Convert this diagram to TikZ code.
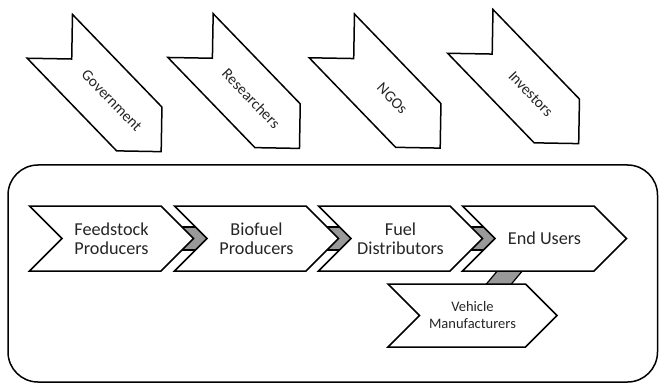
\documentclass[tikz,border=0pt]{standalone}
\usepackage{fontspec}
\setmainfont{Carlito}
\usetikzlibrary{shapes.symbols,backgrounds}
\tikzset{
  actor/.style={signal, signal from=west, signal to=east, draw, fill=white,
    line width=1.5pt, minimum width=156pt, minimum height=63pt, inner sep=0pt,
    rotate=-46, text=black!85, font=\fontsize{15.5}{18}\selectfont},
  stage/.style={signal, signal from=west, signal to=east, draw, fill=white,
    line width=1.5pt, minimum width=164pt, minimum height=65pt, inner sep=0pt,
    align=center, text=black!85, font=\fontsize{18.2}{19}\selectfont},
  link/.style={draw, line width=1.2pt, fill=black!40}
}
\begin{document}
\begin{tikzpicture}[x=1pt,y=-1pt]
\useasboundingbox (0,0) rectangle (659,385);
\draw[line width=1.5pt, rounded corners=30pt] (8,165) rectangle (657.5,382);

% stakeholders
\foreach \n/\x/\y/\t in {gov/105.5/94/Government, res/245/92/Researchers,
  ngo/386/92/NGOs, inv/524.5/87.5/Investors}
  \node[actor] (\n) at (\x,\y) {\hspace*{18pt}\t};

% supply chain
\node[stage] (fp) at (111.5,238.5) {Feedstock\\Producers};
\node[stage] (bp) at (256.5,238.5) {Biofuel\\Producers};
\node[stage] (fd) at (400.5,238.5) {Fuel\\Distributors};
\node[stage] (eu) at (544.5,238.5) {End Users};
\node[stage, minimum width=169pt, minimum height=63pt,
  font=\fontsize{14.5}{17}\selectfont] (vm) at (472.5,315.5) {Vehicle\\Manufacturers};

\begin{scope}[on background layer]
\foreach \a/\b in {fp/bp, bp/fd, fd/eu}
  \draw[link] ([yshift=-11.5pt]\a.center) rectangle ([yshift=11.5pt]\b.center);
\draw[link] ([xshift=-20pt]eu.center) -- ([xshift=5pt]eu.center)
  -- ([xshift=12.5pt]vm.center) -- ([xshift=-12.5pt]vm.center) -- cycle;
\end{scope}
\end{tikzpicture}
\end{document}
